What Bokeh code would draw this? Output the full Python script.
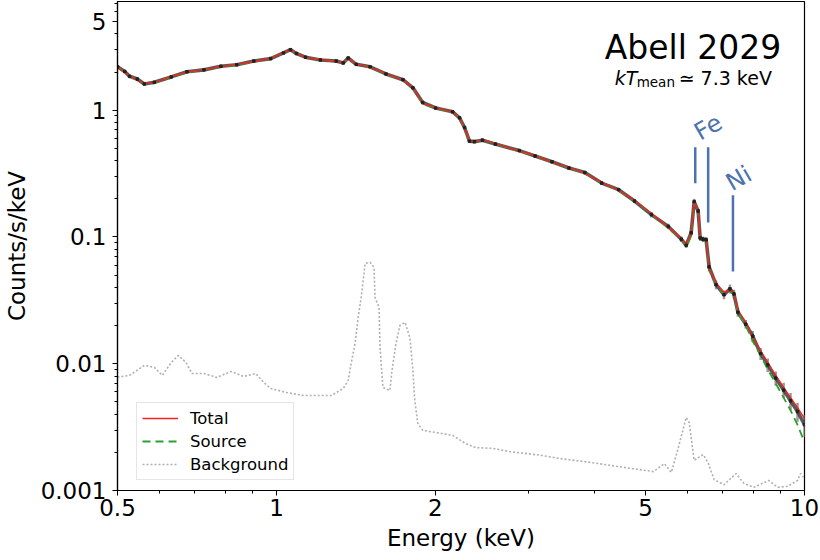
from bokeh.plotting import figure
from bokeh.models import (FixedTicker, Legend, LegendItem, Label, Range1d)
from bokeh.embed import file_html
from bokeh.resources import INLINE

# ---------------- data ----------------
energy = [0.50, 0.516, 0.527, 0.545, 0.562, 0.587, 0.632, 0.677, 0.729, 0.785,
          0.841, 0.906, 0.975, 1.031, 1.063, 1.091, 1.135, 1.211, 1.298, 1.338,
          1.367, 1.416, 1.504, 1.612, 1.736, 1.813, 1.892, 2.002, 2.156, 2.222,
          2.271, 2.320, 2.371, 2.455, 2.597, 2.883, 3.089, 3.325, 3.580, 3.837,
          4.130, 4.446, 4.765, 5.130, 5.522, 5.843, 5.970, 6.101, 6.181, 6.289,
          6.345, 6.427, 6.512, 6.597, 6.800, 7.040, 7.225, 7.351, 7.48, 7.74,
          7.98, 8.26, 8.52, 8.82, 9.13, 9.41, 9.70, 10.0]

total = [2.18, 1.99, 1.88, 1.72, 1.63, 1.64, 1.85, 1.99, 2.10, 2.20,
         2.30, 2.41, 2.57, 2.86, 2.97, 2.84, 2.59, 2.52, 2.41, 2.39,
         2.55, 2.32, 2.18, 1.95, 1.72, 1.52, 1.13, 1.05, 0.96, 0.88,
         0.72, 0.578, 0.558, 0.589, 0.548, 0.474, 0.441, 0.388, 0.354, 0.318,
         0.270, 0.233, 0.195, 0.153, 0.119, 0.0975, 0.0875, 0.105, 0.195, 0.156,
         0.101, 0.094, 0.0975, 0.0565, 0.0431, 0.0366, 0.0385, 0.0366, 0.0264, 0.0212,
         0.0161, 0.0127, 0.0102, 0.0081, 0.0065, 0.0054, 0.0045, 0.0037]

source = [2.17, 1.98, 1.87, 1.71, 1.62, 1.63, 1.84, 1.98, 2.09, 2.19,
          2.29, 2.40, 2.56, 2.85, 2.96, 2.83, 2.58, 2.51, 2.40, 2.38,
          2.54, 2.31, 2.17, 1.94, 1.71, 1.51, 1.12, 1.04, 0.955, 0.875,
          0.717, 0.575, 0.556, 0.587, 0.546, 0.472, 0.439, 0.386, 0.352, 0.316,
          0.268, 0.231, 0.193, 0.152, 0.117, 0.096, 0.0837, 0.102, 0.193, 0.154,
          0.099, 0.092, 0.0957, 0.0549, 0.0419, 0.0355, 0.0372, 0.0352, 0.0251, 0.0201,
          0.0150, 0.0116, 0.0090, 0.0070, 0.0054, 0.0043, 0.0033, 0.0024]

data_counts = [2.20, 2.02, 1.85, 1.76, 1.61, 1.66, 1.83, 2.01, 2.08, 2.22,
               2.28, 2.44, 2.55, 2.83, 3.00, 2.80, 2.62, 2.49, 2.44, 2.36,
               2.58, 2.30, 2.20, 1.93, 1.74, 1.50, 1.15, 1.04, 0.97, 0.87,
               0.73, 0.570, 0.565, 0.580, 0.540, 0.480, 0.435, 0.392, 0.350, 0.322,
               0.266, 0.236, 0.192, 0.150, 0.121, 0.0960, 0.0860, 0.108, 0.190, 0.160,
               0.098, 0.096, 0.0950, 0.0580, 0.0420, 0.0350, 0.0390, 0.0355, 0.0255, 0.0205,
               0.0165, 0.0120, 0.0098, 0.0077, 0.0062, 0.0051, 0.0042, 0.0033]

data_err = [0.02] * 30 + [0.03] * 13 + [0.05] * 10 + [0.08] * 7 + \
           [0.10, 0.11, 0.12, 0.13, 0.14, 0.15, 0.17, 0.20]

bkg_energy = [0.500, 0.527, 0.562, 0.587, 0.608, 0.632, 0.652, 0.674, 0.692, 0.729,
              0.771, 0.820, 0.867, 0.913, 0.946, 0.975, 1.045, 1.125, 1.211, 1.270,
              1.338, 1.367, 1.385, 1.409, 1.428, 1.447, 1.472, 1.504, 1.530, 1.537,
              1.564, 1.571, 1.591, 1.640, 1.655, 1.684, 1.713, 1.751, 1.789, 1.813,
              1.828, 1.852, 1.892, 2.002, 2.156, 2.280, 2.381, 2.564, 2.760, 3.184,
              3.428, 3.955, 4.563, 5.175, 5.428, 5.596, 5.768, 5.970, 6.048, 6.181,
              6.427, 6.568, 6.742, 7.040, 7.418, 7.679, 8.02, 8.56, 8.90, 9.29,
              9.70, 9.83, 9.96]
bkg_counts = [0.00783, 0.00809, 0.00971, 0.00936, 0.00809, 0.01023, 0.01163, 0.01023, 0.00837, 0.00837,
              0.00780, 0.00869, 0.00794, 0.00837, 0.00711, 0.00638, 0.00593, 0.00562, 0.00562, 0.00562,
              0.00638, 0.00738, 0.01005, 0.01445, 0.02317, 0.0333, 0.0619, 0.0631, 0.0575, 0.0333,
              0.0278, 0.01346, 0.0065, 0.00615, 0.00885, 0.01445, 0.02005, 0.0212, 0.01615, 0.00885,
              0.00513, 0.00338, 0.00298, 0.00287, 0.00272, 0.00235, 0.00218, 0.00215, 0.00203, 0.00189,
              0.00179, 0.00166, 0.00152, 0.00141, 0.00163, 0.00139, 0.00218, 0.00377, 0.00344, 0.00173,
              0.00192, 0.00166, 0.00122, 0.00111, 0.00136, 0.00114, 0.00106, 0.00120, 0.00106, 0.00108,
              0.00120, 0.00136, 0.00127]

line_energy = [6.21, 6.57, 7.32]
line_top = [0.509, 0.509, 0.213]
line_bottom = [0.265, 0.130, 0.0534]
line_names = ["Fe", "Ni"]
line_name_energy = [6.57, 7.51]
line_name_counts = [0.733, 0.290]

x_major = [0.5, 1, 2, 5, 10]
x_minor = [0.6, 0.7, 0.8, 0.9, 3, 4, 6, 7, 8, 9]
y_major = [0.001, 0.01, 0.1, 1, 5]
y_minor = [0.002, 0.003, 0.004, 0.005, 0.006, 0.007, 0.008, 0.009,
           0.02, 0.03, 0.04, 0.05, 0.06, 0.07, 0.08, 0.09,
           0.2, 0.3, 0.4, 0.5, 0.6, 0.7, 0.8, 0.9, 2, 3, 4, 6, 7]

FONT = "DejaVu Sans"

p = figure(width=820, height=560, x_axis_type="log", y_axis_type="log",
           x_range=Range1d(0.5, 10), y_range=Range1d(0.001, 7.2),
           output_backend="svg", toolbar_location=None,
           min_border_left=113, min_border_right=16, min_border_top=1,
           min_border_bottom=70)
p.grid.visible = False
p.outline_line_color = "black"
p.outline_line_width = 1.2
p.background_fill_color = "white"
p.border_fill_color = "white"

for ax in (p.xaxis[0], p.yaxis[0]):
    ax.axis_line_color = "black"
    ax.axis_line_width = 1.2
    ax.major_tick_in = 0
    ax.major_tick_out = 5
    ax.minor_tick_in = 0
    ax.minor_tick_out = 3
    ax.major_tick_line_color = "black"
    ax.minor_tick_line_color = "black"
    ax.major_label_text_font = FONT
    ax.major_label_text_font_size = "23px"
    ax.major_label_text_color = "black"
    ax.axis_label_text_font = FONT
    ax.axis_label_text_font_size = "23px"
    ax.axis_label_text_font_style = "normal"
    ax.axis_label_text_color = "black"

p.xaxis.ticker = FixedTicker(ticks=x_major, minor_ticks=x_minor)
p.yaxis.ticker = FixedTicker(ticks=y_major, minor_ticks=y_minor)
p.xaxis.major_label_overrides = {v: str(v) for v in x_major}
p.yaxis.major_label_overrides = {v: str(v) for v in y_major}
p.xaxis.axis_label = "Energy (keV)"
p.yaxis.axis_label = "Counts/s/keV"
p.xaxis.major_label_standoff = 3
p.yaxis.major_label_standoff = 6
p.xaxis.axis_label_standoff = 6
p.yaxis.axis_label_standoff = 8

# background
r_bkg = p.line(bkg_energy, bkg_counts, line_color="#b0b0b0", line_width=1.6,
               line_dash="2 2")

# data error bars and data band
lo = [v * (1 - e) for v, e in zip(data_counts, data_err)]
hi = [v * (1 + e) for v, e in zip(data_counts, data_err)]
p.segment(x0=energy, y0=lo, x1=energy, y1=hi, line_color="#9a9a9a", line_width=2.5)
p.line(energy, data_counts, line_color="#3c3c3c", line_width=3.6, line_alpha=0.85)

# models
r_src = p.line(energy, source, line_color="#2ca02c", line_width=1.8, line_dash="8 5")
r_tot = p.line(energy, total, line_color="#f52222", line_width=1.4)
p.scatter(energy, data_counts, marker="square", size=2.5, color="#222222")

# emission line markers
p.segment(x0=line_energy, y0=line_bottom, x1=line_energy, y1=line_top,
          line_color="#4c72b0", line_width=2.5)
for name, xe, yc in zip(line_names, line_name_energy, line_name_counts):
    p.add_layout(Label(x=xe, y=yc, text=name, angle=0.52,
                       text_align="center", text_baseline="middle",
                       text_font=FONT, text_font_size="24px",
                       text_color="#4c72b0"))

# title texts
p.add_layout(Label(x=6.15, y=3.14, text="Abell 2029", text_align="center",
                   text_baseline="alphabetic", text_font=FONT,
                   text_font_size="33px", text_color="black"))
p.add_layout(Label(x=4.37, y=1.79, text="kT", text_align="left",
                   text_baseline="alphabetic", text_font=FONT,
                   text_font_style="italic", text_font_size="19px",
                   text_color="black"))
p.add_layout(Label(x=4.37, y=1.79, x_offset=22, y_offset=-4, text="mean",
                   text_align="left", text_baseline="alphabetic",
                   text_font=FONT, text_font_size="13.5px", text_color="black"))
p.add_layout(Label(x=4.37, y=1.79, x_offset=64, text="\u2243 7.3 keV",
                   text_align="left", text_baseline="alphabetic",
                   text_font=FONT, text_font_size="19px", text_color="black"))

legend = Legend(items=[LegendItem(label="Total", renderers=[r_tot]),
                       LegendItem(label="Source", renderers=[r_src]),
                       LegendItem(label="Background", renderers=[r_bkg])],
                location=(19, 10))
legend.label_text_font = FONT
legend.label_text_font_size = "16.5px"
legend.label_text_color = "black"
legend.glyph_width = 36
legend.glyph_height = 18
legend.label_height = 20
legend.spacing = 3
legend.padding = 5
legend.margin = 0
legend.label_standoff = 12
legend.border_line_color = "#cccccc"
legend.border_line_width = 1
legend.background_fill_alpha = 0.85
p.add_layout(legend)

open("out.html", "w").write(file_html(p, INLINE))
